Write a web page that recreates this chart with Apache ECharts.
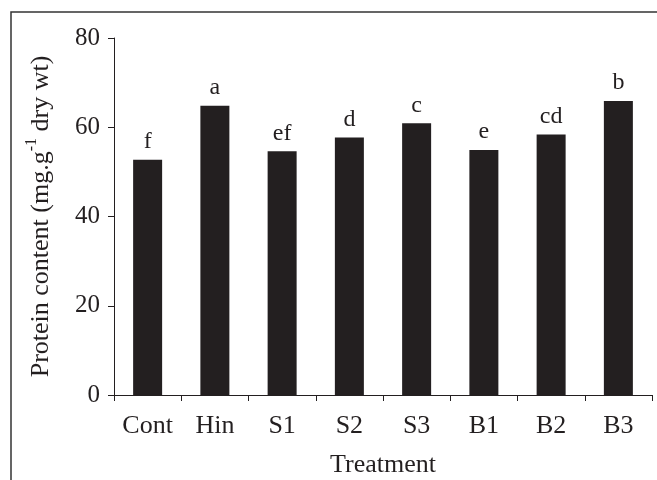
<!DOCTYPE html>
<html>
<head>
<meta charset="utf-8">
<script src="https://cdn.jsdelivr.net/npm/echarts@6/dist/echarts.min.js"></script>
<style>
  html, body { margin: 0; padding: 0; background: #fff; }
  #chart { width: 657px; height: 480px; }
</style>
</head>
<body>
<div id="chart"></div>
<script>
var treatments = ['Cont', 'Hin', 'S1', 'S2', 'S3', 'B1', 'B2', 'B3'];
var protein = [52.7, 64.8, 54.6, 57.7, 60.9, 54.9, 58.4, 65.9];
var letters = ['f', 'a', 'ef', 'd', 'c', 'e', 'cd', 'b'];

var ink = '#231f20';
var serif = '"Liberation Serif", "Times New Roman", serif';

var chartDom = document.getElementById('chart');
var myChart = echarts.init(chartDom);

var option = {
    backgroundColor: '#fff',
    animation: false,
    textStyle: { fontFamily: serif, color: ink },
    grid: { left: 114, right: 5, top: 38, bottom: 85, outerBoundsMode: 'none', containLabel: false },
    // outer frame (left + top edges)
    graphic: [{
        type: 'polyline',
        shape: { points: [[11, 480], [11, 12], [657, 12]] },
        style: { stroke: '#333', lineWidth: 1.5, fill: null }
    }],
    xAxis: {
        type: 'category',
        data: treatments,
        name: 'Treatment',
        nameLocation: 'middle',
        nameGap: 57,
        nameTextStyle: { fontFamily: serif, fontSize: 26, color: ink },
        axisLine: { lineStyle: { color: ink, width: 1 } },
        axisTick: { show: true, length: 6, alignWithLabel: false, lineStyle: { color: ink } },
        axisLabel: { margin: 18, fontFamily: serif, fontSize: 26, color: ink }
    },
    yAxis: {
        type: 'value',
        min: 0,
        max: 80,
        interval: 20,
        name: '{a|Protein content (mg.g}{s|-1}{a| dry wt)}',
        nameLocation: 'middle',
        nameGap: 60,
        nameRotate: 90,
        nameTextStyle: {
            fontFamily: serif,
            color: ink,
            rich: {
                a: { fontFamily: serif, fontSize: 26, color: ink, lineHeight: 30, verticalAlign: 'bottom' },
                s: { fontFamily: serif, fontSize: 16, color: ink, lineHeight: 14, verticalAlign: 'top' }
            }
        },
        splitLine: { show: false },
        axisLine: { show: true, lineStyle: { color: ink, width: 1 } },
        axisTick: { show: true, length: 6, lineStyle: { color: ink } },
        axisLabel: { margin: 14, fontFamily: serif, fontSize: 25, color: ink }
    },
    series: [{
        type: 'bar',
        data: protein,
        barWidth: 29,
        itemStyle: { color: ink },
        label: {
            show: true,
            position: 'top',
            distance: 6,
            fontFamily: serif,
            fontSize: 24,
            color: ink,
            formatter: function (p) { return letters[p.dataIndex]; }
        }
    }]
};

myChart.setOption(option);
</script>
</body>
</html>
